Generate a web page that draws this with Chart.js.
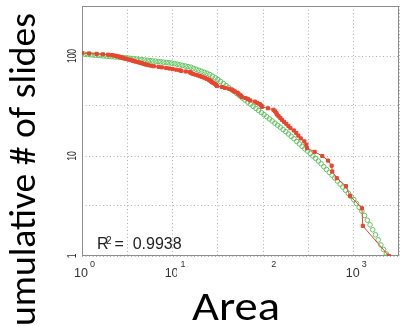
<!DOCTYPE html>
<html>
<head>
<meta charset="utf-8">
<script src="https://cdn.jsdelivr.net/npm/chart.js@4"></script>
<style>
  html, body { margin: 0; padding: 0; background: #fff; }
  canvas { display: block; }
</style>
</head>
<body>
<canvas id="myChart" width="404" height="326"></canvas>
<script>
// slide areas, largest first, and how many slides are at least that big
const slideArea = [2450, 1260, 1230, 910, 820, 650, 580, 570, 520, 450,
  370, 305, 300, 285, 260, 245, 232, 218, 200, 190,
  180, 170, 161, 155, 148, 142, 140, 135, 130, 113,
  97, 95, 92, 86, 81, 72, 68, 64, 58, 57,
  55, 53, 52, 49, 47, 45, 42, 38, 35, 31,
  30.5, 30, 29, 28, 27, 26.5, 25.8, 25, 24, 23,
  22, 21, 20, 19, 18, 17, 16.3, 15.8, 15.5, 14,
  12.5, 12, 11, 10, 9.2, 8.5, 7.6, 7, 6.2, 5.8,
  5.4, 5.1, 4.9, 4.7, 4.5, 4.3, 4.1, 3.9, 3.75, 3.6,
  3.45, 3.3, 3.15, 3.0, 2.9, 2.8, 2.7, 2.6, 2.5, 2.4,
  2.3, 2.15, 1.95, 1.7, 1.45, 1.2, 1.0]
const slideCount = [1, 2, 3, 4, 5, 6, 7, 8, 9, 10,
  11, 12, 13, 14, 15, 16, 17, 18, 19, 20,
  21, 22, 23, 24, 25, 26, 27, 28, 29, 30,
  31, 32, 33, 34, 35, 36, 37, 38, 39, 40,
  41, 42, 43, 44, 45, 46, 47, 48, 49, 50,
  51, 52, 53, 54, 55, 56, 57, 58, 59, 60,
  61, 62, 63, 64, 65, 66, 67, 68, 69, 70,
  71, 72, 73, 74, 75, 76, 77, 78, 79, 80,
  81, 82, 83, 84, 85, 86, 87, 88, 89, 90,
  91, 92, 93, 94, 95, 96, 97, 98, 99, 100,
  101, 102, 103, 104, 105, 106, 107]

// fitted curve (green circles)
const fitArea = [1, 1.072, 1.148, 1.23, 1.318, 1.413, 1.514, 1.622, 1.738, 1.862,
  1.995, 2.138, 2.291, 2.455, 2.63, 2.818, 3.02, 3.236, 3.467, 3.715,
  3.981, 4.266, 4.571, 4.898, 5.248, 5.623, 6.026, 6.457, 6.918, 7.413,
  7.943, 8.511, 9.12, 9.772, 10.47, 11.22, 12.02, 12.88, 13.8, 14.79,
  15.85, 16.98, 18.2, 19.5, 20.89, 22.39, 23.99, 25.7, 27.54, 29.51,
  31.62, 33.88, 36.31, 38.9, 41.69, 44.67, 47.86, 51.29, 54.95, 58.88,
  63.1, 67.61, 72.44, 77.62, 83.18, 89.13, 95.5, 102.3, 109.6, 117.5,
  125.9, 134.9, 144.5, 154.9, 166, 177.8, 190.5, 204.2, 218.8, 234.4,
  251.2, 269.2, 288.4, 309, 331.1, 354.8, 380.2, 407.4, 436.5, 467.7,
  501.2, 537, 575.4, 616.6, 660.7, 707.9, 758.6, 812.8, 871, 933.3,
  1000, 1072, 1148, 1230, 1318, 1413, 1514, 1622, 1738, 1862,
  1995, 2138, 2291, 2371]
const fitCount = [104.7, 104.2, 103.5, 103, 102.3, 101.9, 101.4, 100.7, 100.2, 99.5,
  99.1, 98.6, 97.9, 97.5, 96.8, 96.4, 95.9, 95.3, 94.6, 94,
  93.3, 92.5, 91.8, 91.2, 90.6, 89.9, 89.3, 88.7, 88.1, 87.5,
  86.7, 86.1, 85.5, 84.9, 83.9, 82.8, 81.7, 80.5, 79.4, 78.3,
  77.3, 75.3, 73.6, 71.9, 70.3, 68.7, 67.1, 65.3, 62.8, 60.5,
  58.2, 55.6, 53.1, 50.6, 48.3, 46.1, 44.1, 42, 40, 38.1,
  36.3, 34.6, 33, 31.4, 29.9, 28.5, 27.2, 25.9, 24.7, 23.5,
  22.4, 21.3, 20.3, 19.4, 18.4, 17.5, 16.6, 15.7, 14.9, 14,
  13.2, 12.5, 11.8, 11.2, 10.6, 10, 9.46, 8.91, 8.36, 7.82,
  7.33, 6.85, 6.43, 6.03, 5.62, 5.24, 4.88, 4.54, 4.24, 3.94,
  3.67, 3.36, 3.07, 2.81, 2.54, 2.28, 2.05, 1.83, 1.63, 1.45,
  1.29, 1.16, 1.05, 1.0]

const xGrid = [1, 3.1623, 10, 31.623, 100, 316.23, 1000, 3162.3]
const yGrid = [1, 3.1623, 10, 31.623, 100, 316.23]
const xExponents = [0, 1, 2, 3]
const yLabels = [1, 10, 100]
const rSquared = '0.9938'

function stretchText(ctx, text, targetWidth) {
    const w = ctx.measureText(text).width
    return targetWidth / w
}

const decorations = {
    id: 'decorations',
    beforeDatasetsDraw(chart) {
        const {ctx, chartArea: a} = chart
        ctx.save()
        ctx.strokeStyle = '#8c8c8c'
        ctx.lineWidth = 1
        ctx.strokeRect(a.left + 0.5, a.top + 0.5, a.right - a.left - 1, a.bottom - a.top - 1)
        ctx.restore()
    },
    afterDraw(chart) {
        const {ctx, chartArea: a, scales} = chart
        ctx.save()
        ctx.fillStyle = '#333'

        // y tick labels, rotated
        ctx.font = '12.5px "Liberation Sans", Arial'
        yLabels.forEach((v) => {
            const py = scales.y.getPixelForValue(v)
            ctx.save()
            ctx.translate(a.left - 6, py)
            ctx.rotate(-Math.PI / 2)
            ctx.scale(0.68, 1)
            ctx.textAlign = 'center'
            ctx.fillText(String(v), 0, 0)
            ctx.restore()
        })

        // x tick labels 10^n
        xExponents.forEach((e) => {
            const px = scales.x.getPixelForValue(Math.pow(10, e))
            ctx.font = '12.5px "Liberation Sans", Arial'
            ctx.textAlign = 'right'
            ctx.fillText('10', px + 6, a.bottom + 21)
            ctx.font = '9px "Liberation Sans", Arial'
            ctx.textAlign = 'left'
            ctx.fillText(String(e), px + 8, a.bottom + 11)
        })

        // R^2 note
        ctx.fillStyle = '#222'
        ctx.textAlign = 'left'
        ctx.font = '16px "Liberation Sans", Arial'
        ctx.fillText('R', a.left + 15, a.bottom - 7)
        ctx.font = '10px "Liberation Sans", Arial'
        ctx.fillText('2', a.left + 24, a.bottom - 12)
        ctx.font = '16px "Liberation Sans", Arial'
        ctx.fillText(' =  ' + rSquared, a.left + 28, a.bottom - 7)

        // x title sits in a white box that hides part of the tick labels
        ctx.fillStyle = '#fff'
        ctx.fillRect(177, a.bottom + 11, 150, 326 - a.bottom - 11)
        ctx.fillStyle = '#000'
        ctx.font = '41px Carlito, Lato, sans-serif'
        ctx.textAlign = 'center'
        let s = stretchText(ctx, 'Area', 88)
        ctx.save()
        ctx.translate(236, 320)
        ctx.scale(s, 1)
        ctx.fillText('Area', 0, 0)
        ctx.restore()

        // y title
        ctx.font = '37px Carlito, Lato, sans-serif'
        const yTitle = 'Cumulative # of slides'
        s = stretchText(ctx, yTitle, 333)
        ctx.save()
        ctx.translate(35, 13 + 333 / 2)
        ctx.rotate(-Math.PI / 2)
        ctx.scale(s, 1)
        ctx.fillText(yTitle, 0, 0)
        ctx.restore()

        ctx.restore()
    }
}

const ctx = document.getElementById('myChart')
const dataPoints = slideArea.map((v, i) => ({x: v, y: slideCount[i]}))
const fitPoints = fitArea.map((v, i) => ({x: v, y: fitCount[i]}))

const gridOpts = {color: '#b0b0b0', lineWidth: 1, drawTicks: false}
const myChart = new Chart(ctx, {
    type: 'scatter',
    data: {
        datasets: [
            {
                label: 'data',
                data: dataPoints,
                showLine: true,
                borderColor: '#e8452f',
                backgroundColor: '#e8452f',
                borderWidth: 1,
                pointRadius: 2.2,
                pointBorderWidth: 1,
                pointStyle: 'rect'
            },
            {
                label: 'fit',
                data: fitPoints,
                showLine: false,
                borderColor: '#62c462',
                backgroundColor: 'rgba(0,0,0,0)',
                pointRadius: 2.3,
                pointBorderWidth: 1
            }
        ]
    },
    options: {
        responsive: false,
        animation: false,
        layout: {padding: {left: 82, right: 5, top: 6, bottom: 70}},
        plugins: {legend: {display: false}, tooltip: {enabled: false}},
        scales: {
            x: {
                type: 'logarithmic',
                min: 1,
                max: 3162.3,
                afterBuildTicks: (s) => { s.ticks = xGrid.map((v) => ({value: v})) },
                ticks: {display: false},
                grid: gridOpts,
                border: {display: false, dash: [1, 2.5]}
            },
            y: {
                type: 'logarithmic',
                min: 1,
                max: 316.23,
                afterBuildTicks: (s) => { s.ticks = yGrid.map((v) => ({value: v})) },
                ticks: {display: false},
                grid: gridOpts,
                border: {display: false, dash: [1, 2.5]}
            }
        }
    },
    plugins: [decorations]
});
</script>
</body>
</html>
